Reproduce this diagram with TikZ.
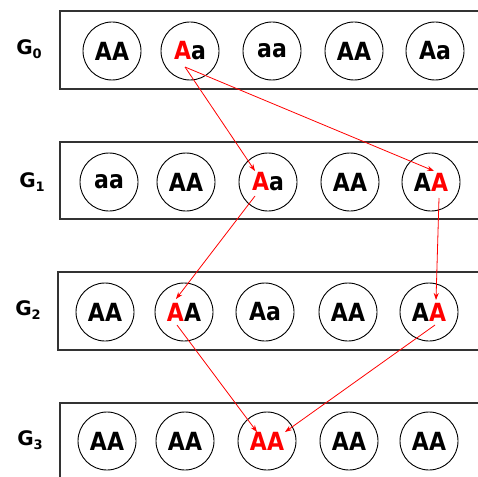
\documentclass[tikz,border=0pt]{standalone}
\usepackage{fontspec}
\setmainfont{DejaVu Sans}
\newfontfamily\genofont[FakeStretch=0.88]{DejaVu Sans Bold}
\usetikzlibrary{arrows.meta}
\begin{document}
\begin{tikzpicture}[x=1pt,y=-1pt,
  genbox/.style={draw=black!80, line width=1.3pt},
  ind/.style={circle, draw, line width=0.9pt, minimum size=58pt, inner sep=0pt,
    font=\genofont\fontsize{25}{25}\selectfont},
  genlbl/.style={font=\fontsize{20}{20}\selectfont\bfseries},
  descent/.style={red, line width=0.8pt, -{Stealth[length=7pt,width=5pt]}}]
\useasboundingbox (0,0) rectangle (478,476);
\clip (0,0) rectangle (478,476);

% generation boxes
\draw[genbox] (60,11) rectangle (500,89);
\draw[genbox] (60,142) rectangle (500,219);
\draw[genbox] (58,272) rectangle (500,350);
\draw[genbox] (60,403) rectangle (500,500);

% generation labels
\node[genlbl] (l0) at (29,49) {G\raisebox{-0.35ex}{\fontsize{13}{13}\selectfont 0}};
\node[genlbl] (l1) at (32,182) {G\raisebox{-0.35ex}{\fontsize{13}{13}\selectfont 1}};
\node[genlbl] (l2) at (28,310) {G\raisebox{-0.35ex}{\fontsize{13}{13}\selectfont 2}};
\node[genlbl] (l3) at (30,440) {G\raisebox{-0.35ex}{\fontsize{13}{13}\selectfont 3}};

% G0
\node[ind] (a1) at (112,51) {AA};
\node[ind] (a2) at (190,51) {{\color{red}A}a};
\node[ind] (a3) at (272,51) {aa};
\node[ind] (a4) at (354,51) {AA};
\node[ind] (a5) at (435,51) {Aa};
% G1
\node[ind] (b1) at (109,182) {aa};
\node[ind] (b2) at (186,182) {AA};
\node[ind] (b3) at (268,182) {{\color{red}A}a};
\node[ind] (b4) at (350,182) {AA};
\node[ind] (b5) at (431,182) {A{\color{red}A}};
% G2
\node[ind] (c1) at (105,312) {AA};
\node[ind] (c2) at (184,312) {{\color{red}A}A};
\node[ind] (c3) at (265,312) {Aa};
\node[ind] (c4) at (348,312) {AA};
\node[ind] (c5) at (429,312) {A{\color{red}A}};
% G3
\node[ind] (d1) at (107,441) {AA};
\node[ind] (d2) at (185,441) {AA};
\node[ind, text=red] (d3) at (267,441) {AA};
\node[ind] (d4) at (349,441) {AA};
\node[ind] (d5) at (429,441) {AA};

% ends of the descent lines, on the red letters
\coordinate (a2s) at (185,67);
\coordinate (b3t) at (255,171);
\coordinate (b5t) at (434,171);
\coordinate (b3s) at (255,196);
\coordinate (b5s) at (439,198);
\coordinate (c2t) at (176,299);
\coordinate (c5t) at (436,300);
\coordinate (c2s) at (177,325);
\coordinate (c5s) at (435,325);
\coordinate (d3tl) at (257,432);
\coordinate (d3tr) at (285,432);

\draw[descent] (a2s) -- (b3t);
\draw[descent] (a2s) -- (b5t);
\draw[descent] (b3s) -- (c2t);
\draw[descent] (b5s) -- (c5t);
\draw[descent] (c2s) -- (d3tl);
\draw[descent] (c5s) -- (d3tr);
\end{tikzpicture}
\end{document}
